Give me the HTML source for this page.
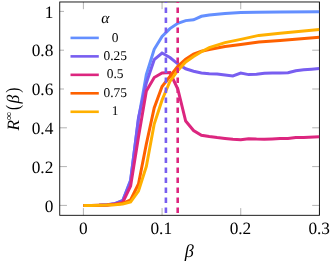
<!DOCTYPE html>
<html><head><meta charset="utf-8"><title>chart</title>
<style>html,body{margin:0;padding:0;background:#fff;width:336px;height:268px;overflow:hidden}body{position:relative;font-family:"Liberation Serif",serif}</style></head>
<body>
<svg width="336" height="268" viewBox="0 0 336 268" style="position:absolute;left:0;top:0;will-change:transform">
<rect width="336" height="268" fill="#fff"/>
<line x1="83.40" y1="215.3" x2="83.40" y2="208.10000000000002" stroke="#808080" stroke-width="0.6"/>
<line x1="83.40" y1="1.98" x2="83.40" y2="9.18" stroke="#808080" stroke-width="0.6"/>
<line x1="162.07" y1="215.3" x2="162.07" y2="208.10000000000002" stroke="#808080" stroke-width="0.6"/>
<line x1="162.07" y1="1.98" x2="162.07" y2="9.18" stroke="#808080" stroke-width="0.6"/>
<line x1="240.74" y1="215.3" x2="240.74" y2="208.10000000000002" stroke="#808080" stroke-width="0.6"/>
<line x1="240.74" y1="1.98" x2="240.74" y2="9.18" stroke="#808080" stroke-width="0.6"/>
<line x1="319.41" y1="215.3" x2="319.41" y2="208.10000000000002" stroke="#808080" stroke-width="0.6"/>
<line x1="319.41" y1="1.98" x2="319.41" y2="9.18" stroke="#808080" stroke-width="0.6"/>
<line x1="59.75" y1="205.40" x2="66.95" y2="205.40" stroke="#808080" stroke-width="0.6"/>
<line x1="319.4" y1="205.40" x2="312.2" y2="205.40" stroke="#808080" stroke-width="0.6"/>
<line x1="59.75" y1="166.60" x2="66.95" y2="166.60" stroke="#808080" stroke-width="0.6"/>
<line x1="319.4" y1="166.60" x2="312.2" y2="166.60" stroke="#808080" stroke-width="0.6"/>
<line x1="59.75" y1="127.80" x2="66.95" y2="127.80" stroke="#808080" stroke-width="0.6"/>
<line x1="319.4" y1="127.80" x2="312.2" y2="127.80" stroke="#808080" stroke-width="0.6"/>
<line x1="59.75" y1="89.00" x2="66.95" y2="89.00" stroke="#808080" stroke-width="0.6"/>
<line x1="319.4" y1="89.00" x2="312.2" y2="89.00" stroke="#808080" stroke-width="0.6"/>
<line x1="59.75" y1="50.20" x2="66.95" y2="50.20" stroke="#808080" stroke-width="0.6"/>
<line x1="319.4" y1="50.20" x2="312.2" y2="50.20" stroke="#808080" stroke-width="0.6"/>
<line x1="59.75" y1="11.40" x2="66.95" y2="11.40" stroke="#808080" stroke-width="0.6"/>
<line x1="319.4" y1="11.40" x2="312.2" y2="11.40" stroke="#808080" stroke-width="0.6"/>
<rect x="59.75" y="1.98" width="259.65" height="213.32000000000002" fill="none" stroke="#000" stroke-width="0.88"/>
<clipPath id="c"><rect x="59.75" y="1.98" width="259.65" height="213.32000000000002"/></clipPath>
<g clip-path="url(#c)" fill="none" stroke-linejoin="miter" stroke-miterlimit="10" stroke-linecap="butt">
<path d="M83.40,205.40 L91.27,205.40 L99.13,205.20 L107.00,204.80 L114.87,203.70 L122.74,200.50 L130.60,180.00 L138.47,119.00 L146.34,74.50 L154.20,49.30 L162.07,36.40 L169.94,28.60 L177.80,23.30 L185.67,20.60 L193.54,19.80 L201.41,16.30 L209.27,15.10 L217.14,14.30 L225.01,13.60 L232.87,13.00 L240.74,12.60 L256.47,12.30 L280.08,11.95 L319.41,11.65" stroke="#648FFF" stroke-width="3.0"/>
<path d="M83.40,205.40 L91.27,205.40 L99.13,205.20 L107.00,204.80 L114.87,203.70 L122.74,200.70 L130.60,181.00 L138.47,118.00 L146.34,83.00 L154.20,59.70 L162.07,53.00 L169.94,57.50 L177.80,63.80 L185.67,68.80 L193.54,71.20 L201.41,72.90 L209.27,73.80 L217.14,74.10 L225.01,75.00 L232.87,75.90 L240.74,73.00 L248.61,74.60 L256.47,74.30 L264.34,73.20 L272.21,73.00 L280.08,73.00 L287.94,72.70 L295.81,70.70 L303.68,69.80 L311.54,69.20 L319.41,68.50" stroke="#785EF0" stroke-width="3.0"/>
<path d="M83.40,205.40 L91.27,205.40 L99.13,205.20 L107.00,204.90 L114.87,204.10 L122.74,202.50 L130.60,186.00 L138.47,137.00 L146.34,91.00 L154.20,77.50 L162.07,73.00 L169.94,72.50 L177.80,89.00 L185.67,121.00 L193.54,130.50 L201.41,135.20 L209.27,136.60 L217.14,137.60 L225.01,138.40 L232.87,139.30 L240.74,139.70 L248.61,138.70 L256.47,139.10 L264.34,139.30 L272.21,138.90 L280.08,138.60 L287.94,138.40 L295.81,137.60 L303.68,137.40 L319.41,136.70" stroke="#DC267F" stroke-width="3.0"/>
<path d="M83.40,205.40 L91.27,205.40 L99.13,205.30 L107.00,205.00 L114.87,204.50 L122.74,203.30 L130.60,200.00 L138.47,184.00 L146.34,144.00 L154.20,108.00 L162.07,86.50 L169.94,76.50 L177.80,66.30 L185.67,59.20 L193.54,54.00 L201.41,51.20 L209.27,49.50 L225.01,46.50 L240.74,44.40 L258.83,41.90 L280.08,40.40 L319.41,37.30" stroke="#FE6100" stroke-width="3.0"/>
<path d="M83.40,205.40 L91.27,205.40 L99.13,205.30 L107.00,205.10 L114.87,204.70 L122.74,204.00 L130.60,202.00 L138.47,191.00 L146.34,166.50 L154.20,124.00 L162.07,100.00 L169.94,81.50 L177.80,70.50 L185.67,62.00 L193.54,56.50 L201.41,51.80 L209.27,47.60 L225.01,42.60 L240.74,39.40 L258.83,35.40 L280.08,33.20 L319.41,29.40" stroke="#FFB000" stroke-width="3.0"/>
<line x1="165.9" y1="-2.4" x2="165.9" y2="215.3" stroke="#785EF0" stroke-width="2.6" stroke-dasharray="5.4 4.6"/>
<line x1="177.7" y1="-2.4" x2="177.7" y2="215.3" stroke="#DC267F" stroke-width="2.6" stroke-dasharray="5.4 4.6"/>
</g>
<rect x="64" y="10" width="68" height="110" fill="#fff"/>
<line x1="70.5" y1="37.9" x2="98.8" y2="37.9" stroke="#648FFF" stroke-width="2.6"/>
<line x1="70.5" y1="56.37" x2="98.8" y2="56.37" stroke="#785EF0" stroke-width="2.6"/>
<line x1="70.5" y1="74.84" x2="98.8" y2="74.84" stroke="#DC267F" stroke-width="2.6"/>
<line x1="70.5" y1="93.31" x2="98.8" y2="93.31" stroke="#FE6100" stroke-width="2.6"/>
<line x1="70.5" y1="111.78" x2="98.8" y2="111.78" stroke="#FFB000" stroke-width="2.6"/>
<text x="53.3" y="211.50" text-anchor="end" style="text-rendering:geometricPrecision;font-family:'Liberation Serif',serif;font-size:17.3px;fill:#000">0</text>
<text x="53.3" y="172.70" text-anchor="end" style="text-rendering:geometricPrecision;font-family:'Liberation Serif',serif;font-size:17.3px;fill:#000">0.2</text>
<text x="53.3" y="133.90" text-anchor="end" style="text-rendering:geometricPrecision;font-family:'Liberation Serif',serif;font-size:17.3px;fill:#000">0.4</text>
<text x="53.3" y="95.10" text-anchor="end" style="text-rendering:geometricPrecision;font-family:'Liberation Serif',serif;font-size:17.3px;fill:#000">0.6</text>
<text x="53.3" y="56.30" text-anchor="end" style="text-rendering:geometricPrecision;font-family:'Liberation Serif',serif;font-size:17.3px;fill:#000">0.8</text>
<text x="53.3" y="17.50" text-anchor="end" style="text-rendering:geometricPrecision;font-family:'Liberation Serif',serif;font-size:17.3px;fill:#000">1</text>
<text x="83.40" y="233.6" text-anchor="middle" style="text-rendering:geometricPrecision;font-family:'Liberation Serif',serif;font-size:17.3px;fill:#000">0</text>
<text x="161.27" y="233.6" text-anchor="middle" style="text-rendering:geometricPrecision;font-family:'Liberation Serif',serif;font-size:17.3px;fill:#000">0.1</text>
<text x="240.44" y="233.6" text-anchor="middle" style="text-rendering:geometricPrecision;font-family:'Liberation Serif',serif;font-size:17.3px;fill:#000">0.2</text>
<text x="319.21" y="233.6" text-anchor="middle" style="text-rendering:geometricPrecision;font-family:'Liberation Serif',serif;font-size:17.3px;fill:#000">0.3</text>
<text x="115.2" y="41.50" text-anchor="middle" style="text-rendering:geometricPrecision;font-family:'Liberation Serif',serif;font-size:17.3px;fill:#000;font-size:13.4px">0</text>
<text x="115.2" y="59.97" text-anchor="middle" style="text-rendering:geometricPrecision;font-family:'Liberation Serif',serif;font-size:17.3px;fill:#000;font-size:13.4px">0.25</text>
<text x="115.2" y="78.44" text-anchor="middle" style="text-rendering:geometricPrecision;font-family:'Liberation Serif',serif;font-size:17.3px;fill:#000;font-size:13.4px">0.5</text>
<text x="115.2" y="96.91" text-anchor="middle" style="text-rendering:geometricPrecision;font-family:'Liberation Serif',serif;font-size:17.3px;fill:#000;font-size:13.4px">0.75</text>
<text x="115.2" y="115.38" text-anchor="middle" style="text-rendering:geometricPrecision;font-family:'Liberation Serif',serif;font-size:17.3px;fill:#000;font-size:13.4px">1</text>
<text x="105.3" y="22.5" text-anchor="middle" style="text-rendering:geometricPrecision;font-family:'Liberation Serif',serif;font-size:17.3px;fill:#000;font-style:italic;font-size:15.5px">α</text>
<text x="189.2" y="257.4" text-anchor="middle" style="text-rendering:geometricPrecision;font-family:'Liberation Serif',serif;font-size:17.3px;fill:#000;font-style:italic;font-size:18.2px">β</text>
<g transform="translate(19.1,130.6) rotate(-90)"><text transform="translate(0.0,0.0) scale(1,1)" x="0" y="0" style="text-rendering:geometricPrecision;font-family:'Liberation Serif',serif;font-size:17.3px;fill:#000;font-size:17.3px;font-style:italic">R</text><text transform="translate(10.3,-7.2) scale(1.0,0.85)" x="0" y="0" style="text-rendering:geometricPrecision;font-family:'Liberation Serif',serif;font-size:17.3px;fill:#000;font-size:12.0px">∞</text><text transform="translate(20.6,0.0) scale(0.8,1.0)" x="0" y="0" style="text-rendering:geometricPrecision;font-family:'Liberation Serif',serif;font-size:17.3px;fill:#000;font-size:19.2px">(</text><text transform="translate(27.0,0.0) scale(1,1)" x="0" y="0" style="text-rendering:geometricPrecision;font-family:'Liberation Serif',serif;font-size:17.3px;fill:#000;font-size:17.5px;font-style:italic">β</text><text transform="translate(37.8,0.0) scale(0.8,1.0)" x="0" y="0" style="text-rendering:geometricPrecision;font-family:'Liberation Serif',serif;font-size:17.3px;fill:#000;font-size:19.2px">)</text></g>
</svg>
</body></html>
